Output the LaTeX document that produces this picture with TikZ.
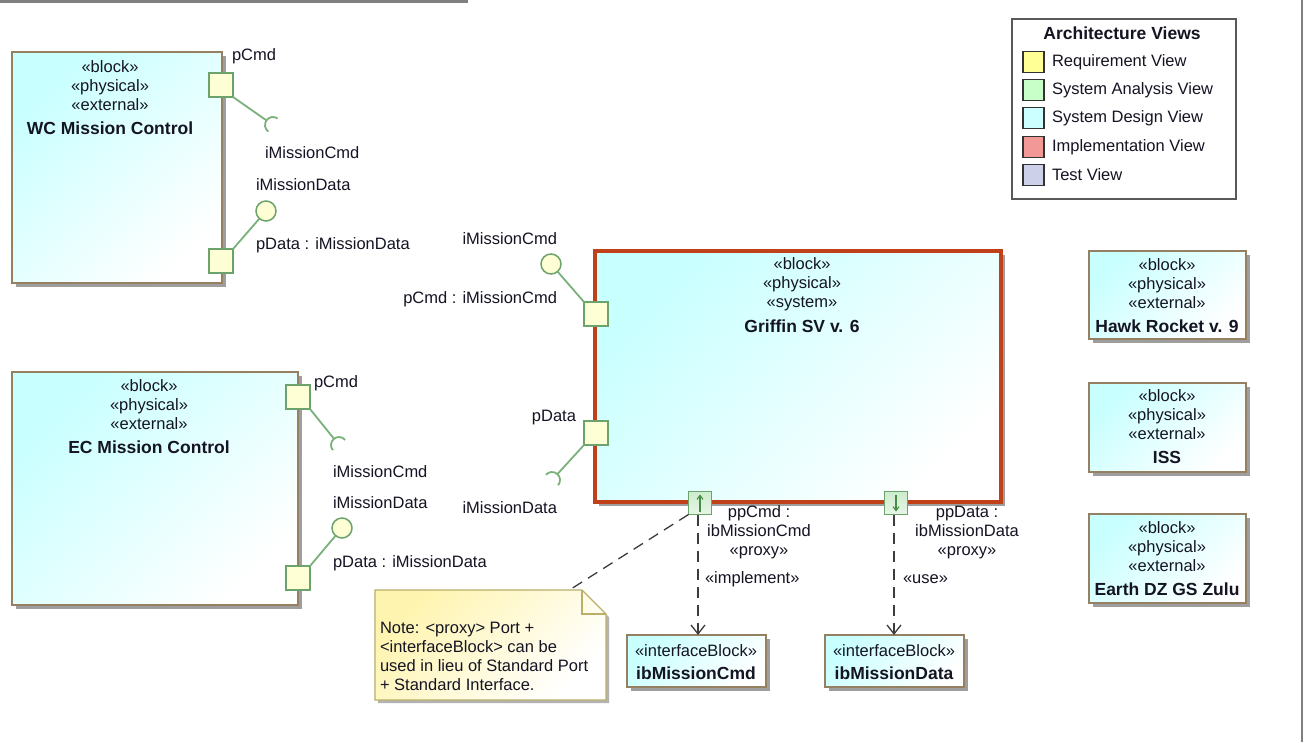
\documentclass[tikz,border=0pt]{standalone}
\usepackage{fontspec}
\setmainfont{Liberation Sans}
\usetikzlibrary{arrows.meta,calc,shadows}

\definecolor{txt}{RGB}{20,20,35}
\definecolor{blockcyan}{RGB}{200,255,255}
\definecolor{blockborder}{RGB}{150,128,98}
\definecolor{sysred}{RGB}{192,64,26}
\definecolor{portgreen}{RGB}{108,162,108}
\definecolor{portfill}{RGB}{255,255,214}
\definecolor{linkgreen}{RGB}{122,176,122}
\definecolor{proxyfill}{RGB}{205,236,205}
\definecolor{arrowgreen}{RGB}{70,140,70}
\definecolor{notefill}{RGB}{255,244,175}
\definecolor{noteborder}{RGB}{185,175,105}
\definecolor{depgrey}{RGB}{60,60,60}
\definecolor{framegrey}{RGB}{128,128,128}
\definecolor{lgyellow}{RGB}{255,255,150}
\definecolor{lggreen}{RGB}{200,255,200}
\definecolor{lgcyan}{RGB}{204,255,255}
\definecolor{lgred}{RGB}{242,152,150}
\definecolor{lgblue}{RGB}{204,208,232}

\begin{document}
\begin{tikzpicture}[x=1pt,y=-1pt,
  every node/.style={inner sep=0pt,outer sep=0pt,text=txt},
  reg/.style={font=\fontsize{16.5}{19}\selectfont},
  bold/.style={font=\fontsize{17.5}{19}\selectfont\bfseries},
  stereo/.style={reg,align=center,anchor=north},
  blockname/.style={bold,anchor=base},
  blockbox/.style={draw=blockborder,line width=1.3pt,
    top color=blockcyan,bottom color=white,shading angle=45,
    drop shadow={shadow xshift=3.5pt,shadow yshift=-3.5pt,fill=black!38,opacity=1},
    anchor=north west},
  sysbox/.style={blockbox,draw=sysred,line width=4pt},
  portbox/.style={draw=portgreen,line width=1.5pt,fill=portfill,minimum size=24pt},
  proxybox/.style={draw=portgreen,line width=1.5pt,top color=proxyfill,bottom color=proxyfill!50!white,minimum size=23pt},
  link/.style={draw=linkgreen,line width=1.8pt},
  ball/.style={circle,draw=portgreen,line width=1.5pt,fill=portfill,minimum size=20pt},
  dep/.style={draw=depgrey,line width=1.3pt,dash pattern=on 11pt off 7pt,
    -{Straight Barb[length=9pt,width=14pt,line width=1.3pt]}},
  notelink/.style={draw=depgrey,line width=1.3pt,dash pattern=on 11pt off 7pt},
  proxyarrow/.style={draw=arrowgreen,line width=1.1pt,-{Straight Barb[length=4pt,width=6pt,line width=1.1pt]}},
  swatch/.style={draw=black!80,line width=1.5pt,minimum size=21pt},
  lgtext/.style={reg,anchor=west}
]
\useasboundingbox (0,0) rectangle (1305,742);
\fill[white] (0,0) rectangle (1305,742);

% diagram frame fragments
\draw[framegrey,line width=3pt] (0,1.5) -- (468,1.5);
\draw[framegrey,line width=2pt] (1302,0) -- (1302,742);

% ---------- WC Mission Control ----------
\node[blockbox,minimum width=210pt,minimum height=231pt] (wc) at (12,52) {};
\node[stereo] (wcst) at (110,61) {«block»\\«physical»\\«external»};
\node[blockname] (wcname) at (110,134) {WC Mission Control};
\node[portbox] (wcpcmd) at (221,85) {};
\node[portbox] (wcpdata) at (221,261) {};
\node[reg,anchor=west] at (232,56) {pCmd};
\coordinate (wcsock) at (273,125);
\draw[link] (wcpcmd.south east) -- ($(wcsock)!8pt!(wcpcmd.south east)$);
\draw[link] (wcsock) ++(55:8pt) arc[start angle=55,end angle=235,radius=8pt];
\node[reg,anchor=west] at (265,153) {iMissionCmd};
\node[ball] (wcball) at (266,211) {};
\draw[link] (wcpdata.north east) -- (wcball);
\node[reg,anchor=west] at (256,185) {iMissionData};
\node[reg,anchor=west] at (256,245) {pData : iMissionData};

% ---------- EC Mission Control ----------
\node[blockbox,minimum width=286pt,minimum height=233pt] (ec) at (12,372) {};
\node[stereo] (ecst) at (149,380) {«block»\\«physical»\\«external»};
\node[blockname] (ecname) at (149,453) {EC Mission Control};
\node[portbox] (ecpcmd) at (298,397) {};
\node[portbox] (ecpdata) at (298,578) {};
\node[reg,anchor=west] at (314,383) {pCmd};
\coordinate (ecsock) at (339,445);
\draw[link] (ecpcmd.south east) -- ($(ecsock)!8pt!(ecpcmd.south east)$);
\draw[link] (ecsock) ++(40:8pt) arc[start angle=40,end angle=220,radius=8pt];
\node[reg,anchor=west] at (333,472) {iMissionCmd};
\node[ball] (ecball) at (342,528) {};
\draw[link] (ecpdata.north east) -- (ecball);
\node[reg,anchor=west] at (333,503) {iMissionData};
\node[reg,anchor=west] at (333,563) {pData : iMissionData};

% ---------- Griffin SV v. 6 ----------
\node[sysbox,minimum width=406pt,minimum height=251pt] (gr) at (595,251) {};
\node[stereo] (grst) at (802,258) {«block»\\«physical»\\«system»};
\node[blockname] (grname) at (802,332) {Griffin SV v. 6};
\node[portbox] (grpcmd) at (596,314) {};
\node[portbox] (grpdata) at (596,433) {};
\node[ball] (grball) at (551,264) {};
\draw[link] (grpcmd.north west) -- (grball);
\node[reg,anchor=east] at (557,239) {iMissionCmd};
\node[reg,anchor=east] at (557,299) {pCmd : iMissionCmd};
\node[reg,anchor=east] at (576,418) {pData};
\coordinate (grsock) at (552,480);
\draw[link] (grpdata.south west) -- ($(grsock)!8pt!(grpdata.south west)$);
\draw[link] (grsock) ++(-41:8pt) arc[start angle=-41,end angle=139,radius=8pt];
\node[reg,anchor=east] at (557,508) {iMissionData};

% proxy ports with flow direction arrows
\node[proxybox] (ppcmd) at (700,503) {};
\node[proxybox] (ppdata) at (896,503) {};
\draw[proxyarrow] ([yshift=3pt]ppcmd.south) -- ([yshift=-3pt]ppcmd.north);
\draw[proxyarrow] ([yshift=-3pt]ppdata.north) -- ([yshift=3pt]ppdata.south);
\node[stereo] at (759,506) {ppCmd :\\ibMissionCmd\\«proxy»};
\node[stereo] at (967,506) {ppData :\\ibMissionData\\«proxy»};

% ---------- interface blocks ----------
\node[blockbox,minimum width=139pt,minimum height=52pt] (ibcmd) at (627,635) {};
\node[reg,anchor=base] at (696,656) {«interfaceBlock»};
\node[blockname] at (696,679) {ibMissionCmd};
\node[blockbox,minimum width=139pt,minimum height=52pt] (ibdata) at (825,635) {};
\node[reg,anchor=base] at (894,656) {«interfaceBlock»};
\node[blockname] at (894,679) {ibMissionData};

\draw[dep] (ppcmd.south -| 698,0) -- (698,0 |- ibcmd.north);
\draw[dep] (ppdata.south -| 894,0) -- (894,0 |- ibdata.north);
\node[reg,anchor=west] at (705,579) {«implement»};
\node[reg,anchor=west] at (903,579) {«use»};

% ---------- note ----------
\node[minimum width=231pt,minimum height=110pt,anchor=north west] (note) at (375,590) {};
\fill[black!30] ($(note.north west)+(3,3)$) -- ($(note.north east)+(-21,3)$)
  -- ($(note.north east)+(3,27)$) -- ($(note.south east)+(3,3)$)
  -- ($(note.south west)+(3,3)$) -- cycle;
\draw[noteborder,line width=1.3pt,top color=notefill,bottom color=white,shading angle=45]
  (note.north west) -- ($(note.north east)+(-24,0)$) -- ($(note.north east)+(0,24)$)
  -- (note.south east) -- (note.south west) -- cycle;
\draw[noteborder,line width=1.3pt] ($(note.north east)+(-24,0)$) -- ($(note.north east)+(-24,24)$)
  -- ($(note.north east)+(0,24)$);
\node[reg,align=left,anchor=north west] (notetext) at (380,622)
  {Note: <proxy> Port +\\<interfaceBlock> can be\\used in lieu of Standard Port\\+ Standard Interface.};
\coordinate (noteanchor) at ($(note.north west)+(196,-1)$);
\draw[notelink] (ppcmd.south west) -- (noteanchor);

% ---------- external blocks ----------
\node[blockbox,minimum width=157pt,minimum height=88pt] (hawk) at (1089,251) {};
\node[stereo] at (1167,259) {«block»\\«physical»\\«external»};
\node[blockname] at (1167,332) {Hawk Rocket v. 9};
\node[blockbox,minimum width=157pt,minimum height=89pt] (iss) at (1089,383) {};
\node[stereo] at (1167,390) {«block»\\«physical»\\«external»};
\node[blockname] at (1167,463) {ISS};
\node[blockbox,minimum width=157pt,minimum height=89pt] (earth) at (1089,514) {};
\node[stereo] at (1167,522) {«block»\\«physical»\\«external»};
\node[blockname] at (1167,595) {Earth DZ GS Zulu};

% ---------- legend ----------
\node[draw=black!65,line width=1.5pt,fill=white,minimum width=224pt,minimum height=180pt,anchor=north west] (legend) at (1012,19) {};
\node[bold,anchor=base] at (1122,39) {Architecture Views};
\node[swatch,fill=lgyellow] (sw1) at (1033.5,62) {};
\node[swatch,fill=lggreen] (sw2) at (1033.5,90) {};
\node[swatch,fill=lgcyan] (sw3) at (1033.5,118) {};
\node[swatch,fill=lgred] (sw4) at (1033.5,147) {};
\node[swatch,fill=lgblue] (sw5) at (1033.5,175) {};
\node[lgtext] at (1052,62) {Requirement View};
\node[lgtext] at (1052,90) {System Analysis View};
\node[lgtext] at (1052,118) {System Design View};
\node[lgtext] at (1052,147) {Implementation View};
\node[lgtext] at (1052,175) {Test View};
\end{tikzpicture}
\end{document}
